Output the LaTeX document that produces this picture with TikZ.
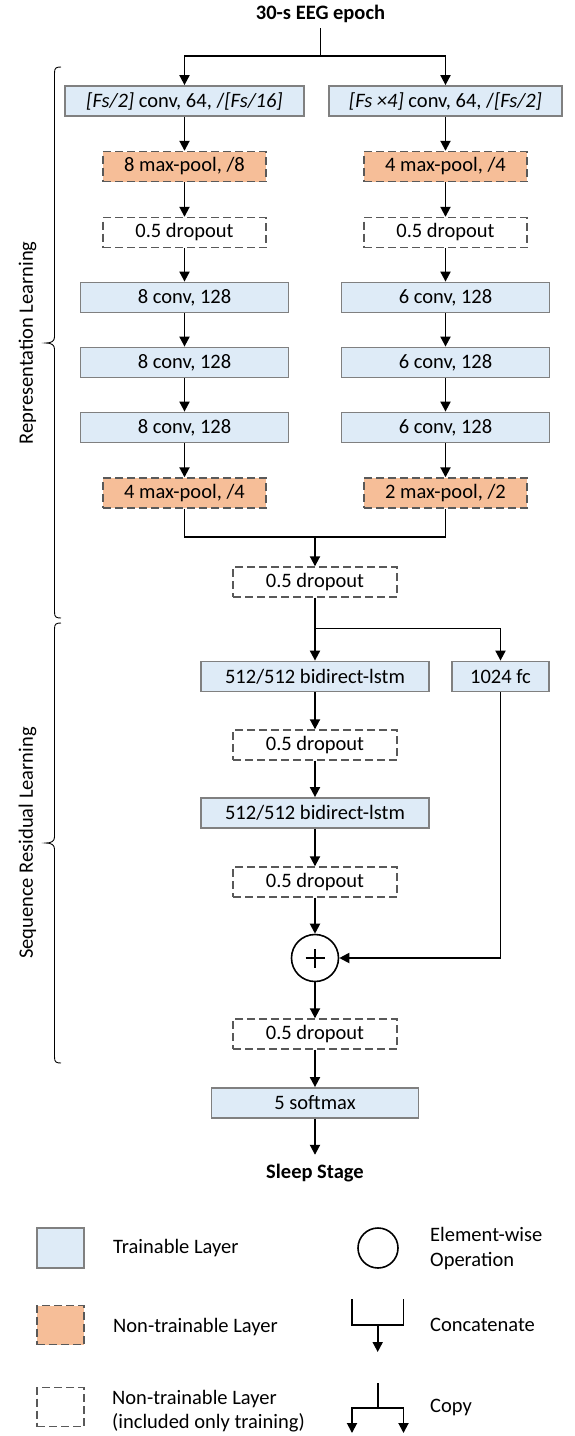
\documentclass[tikz,border=0pt]{standalone}
\usepackage{fontspec}
\setmainfont{Carlito}
\usetikzlibrary{arrows.meta}
\definecolor{trainfill}{HTML}{DEEBF7}
\definecolor{poolfill}{HTML}{F6BE98}
\definecolor{boxgray}{HTML}{808080}
\definecolor{dashgray}{HTML}{595959}
\newcommand{\myfs}{\fontsize{20.5}{24.5}\selectfont}
\tikzset{
  base/.style={minimum height=30pt, inner sep=0pt, font=\myfs, align=center},
  trainbox/.style={base, draw=boxgray, fill=trainfill, line width=1.8pt},
  poolbox/.style={base, draw=dashgray, fill=poolfill, line width=1.4pt, dash pattern=on 8pt off 4pt},
  dropbox/.style={base, draw=dashgray, fill=white, line width=1.4pt, dash pattern=on 8pt off 4pt},
  conn/.style={line width=1.9pt, black},
  arr/.style={conn, -{Triangle[length=10pt,width=10pt]}},
  bracepath/.style={line width=0.9pt, black},
  legtext/.style={font=\myfs, anchor=west, inner sep=0pt, align=left},
}
\begin{document}
\begin{tikzpicture}[x=1pt,y=-1pt]
\useasboundingbox (0,0) rectangle (574,1436);

% title
\node[font=\myfs\bfseries, minimum height=28pt, inner sep=0pt] (title) at (320.5,14) {30-s EEG epoch};
\coordinate (s1) at (320.5,56);

% left column
\node[trainbox, minimum width=239pt] (c1L) at (184.5,101) {\textit{[Fs/2]} conv, 64, /\textit{[Fs/16]}};
\node[poolbox, minimum width=163pt] (p1L) at (184.5,166.5) {8 max-pool, /8};
\node[dropbox, minimum width=163pt] (d1L) at (184.5,232.5) {0.5 dropout};
\node[trainbox, minimum width=208pt] (c2L) at (184.5,297.5) {8 conv, 128};
\node[trainbox, minimum width=208pt] (c3L) at (184.5,362.5) {8 conv, 128};
\node[trainbox, minimum width=208pt] (c4L) at (184.5,427.5) {8 conv, 128};
\node[poolbox, minimum width=163pt] (p2L) at (184.5,493) {4 max-pool, /4};

% right column
\node[trainbox, minimum width=233pt] (c1R) at (445.5,101) {\textit{[Fs ×4]} conv, 64, /\textit{[Fs/2]}};
\node[poolbox, minimum width=163pt] (p1R) at (445.5,166.5) {4 max-pool, /4};
\node[dropbox, minimum width=163pt] (d1R) at (445.5,232.5) {0.5 dropout};
\node[trainbox, minimum width=208pt] (c2R) at (445.5,297.5) {6 conv, 128};
\node[trainbox, minimum width=208pt] (c3R) at (445.5,362.5) {6 conv, 128};
\node[trainbox, minimum width=208pt] (c4R) at (445.5,427.5) {6 conv, 128};
\node[poolbox, minimum width=163pt] (p2R) at (445.5,493) {2 max-pool, /2};

% merged column
\coordinate (m1) at (315,537);
\node[dropbox, minimum width=164pt] (d2) at (315,582) {0.5 dropout};
\coordinate (s2) at (315,628.5);
\node[trainbox, minimum width=228pt] (l1) at (315,676.5) {512/512 bidirect-lstm};
\node[trainbox, minimum width=97pt] (fc) at (500.5,676.5) {1024 fc};
\node[dropbox, minimum width=164pt] (d3) at (315,745) {0.5 dropout};
\node[trainbox, minimum width=228pt] (l2) at (315,813) {512/512 bidirect-lstm};
\node[dropbox, minimum width=164pt] (d4) at (315,882) {0.5 dropout};
\node[circle, draw, line width=1.6pt, minimum size=47pt, inner sep=0pt] (add) at (315,958) {};
\draw[line width=1.8pt] ([xshift=-9.5pt]add.center) -- ([xshift=9.5pt]add.center);
\draw[line width=1.8pt] ([yshift=-9.5pt]add.center) -- ([yshift=9.5pt]add.center);
\node[dropbox, minimum width=164pt] (d5) at (315,1034) {0.5 dropout};
\node[trainbox, minimum width=207pt] (sm) at (315,1103) {5 softmax};
\node[font=\myfs\bfseries, minimum height=36pt, inner sep=0pt] (out) at (315,1173) {Sleep Stage};

% connectors
\draw[conn] (title) -- (s1);
\draw[arr] (s1) -| (c1L);
\draw[arr] (s1) -| (c1R);
\draw[arr] (c1L) -- (p1L);
\draw[arr] (p1L) -- (d1L);
\draw[arr] (d1L) -- (c2L);
\draw[arr] (c2L) -- (c3L);
\draw[arr] (c3L) -- (c4L);
\draw[arr] (c4L) -- (p2L);
\draw[arr] (c1R) -- (p1R);
\draw[arr] (p1R) -- (d1R);
\draw[arr] (d1R) -- (c2R);
\draw[arr] (c2R) -- (c3R);
\draw[arr] (c3R) -- (c4R);
\draw[arr] (c4R) -- (p2R);
\draw[conn] (p2L) |- (m1) -| (p2R);
\draw[arr] (m1) -- (d2);
\draw[conn] (d2) -- (s2);
\draw[arr] (s2) -- (l1);
\draw[arr] (s2) -| (fc);
\draw[arr] (l1) -- (d3);
\draw[arr] (d3) -- (l2);
\draw[arr] (l2) -- (d4);
\draw[arr] (d4) -- (add);
\draw[arr] (fc) |- (add);
\draw[arr] (add) -- (d5);
\draw[arr] (d5) -- (sm);
\draw[arr] (sm) -- (out);

% braces and labels
\draw[bracepath] (61,67) .. controls (56,67) and (54.5,68) .. (54.5,73) -- (54.5,337)
  .. controls (54.5,341) and (51.5,343) .. (46,343) .. controls (51.5,343) and (54.5,345) .. (54.5,349)
  -- (54.5,612) .. controls (54.5,617) and (56,618) .. (61,618);
\node[font=\myfs, rotate=90] (lab1) at (27.5,343) {Representation Learning};
\draw[bracepath] (61,623) .. controls (56,623) and (54.5,624) .. (54.5,629) -- (54.5,837)
  .. controls (54.5,841) and (51.5,843) .. (46,843) .. controls (51.5,843) and (54.5,845) .. (54.5,849)
  -- (54.5,1057) .. controls (54.5,1062) and (56,1063) .. (61,1063);
\node[font=\myfs, rotate=90] (lab2) at (27.5,843) {Sequence Residual Learning};

% legend
\node[trainbox, minimum width=47pt, minimum height=40pt] (lg1) at (60.5,1248) {};
\node[poolbox, minimum width=47pt, minimum height=39pt] (lg2) at (60.5,1325) {};
\node[dropbox, minimum width=47pt, minimum height=39pt] (lg3) at (60.5,1407) {};
\node[legtext] (lt1) at (113,1248) {Trainable Layer};
\node[legtext] (lt2) at (113,1327) {Non-trainable Layer};
\node[legtext] (lt3) at (112,1411) {Non-trainable Layer\\(included only training)};
\node[circle, draw, line width=1.6pt, minimum size=40pt, inner sep=0pt] (lgc) at (378,1248) {};
\node[legtext] (lt4) at (430,1248.5) {Element-wise\\Operation};
\coordinate (ca) at (352,1299);
\coordinate (cb) at (403.5,1299);
\coordinate (cm) at (377.7,1325);
\coordinate (ce) at (377.7,1352);
\draw[conn] (ca) |- (cm) -| (cb);
\draw[arr] (cm) -- (ce);
\node[legtext] (lt5) at (430,1325) {Concatenate};
\coordinate (ka) at (377.7,1383);
\coordinate (km) at (377.7,1408);
\coordinate (kl) at (352,1433);
\coordinate (kr) at (403.5,1433);
\draw[conn] (ka) -- (km);
\draw[arr] (km) -| (kl);
\draw[arr] (km) -| (kr);
\node[legtext] (lt6) at (430,1407) {Copy};
\end{tikzpicture}
\end{document}
